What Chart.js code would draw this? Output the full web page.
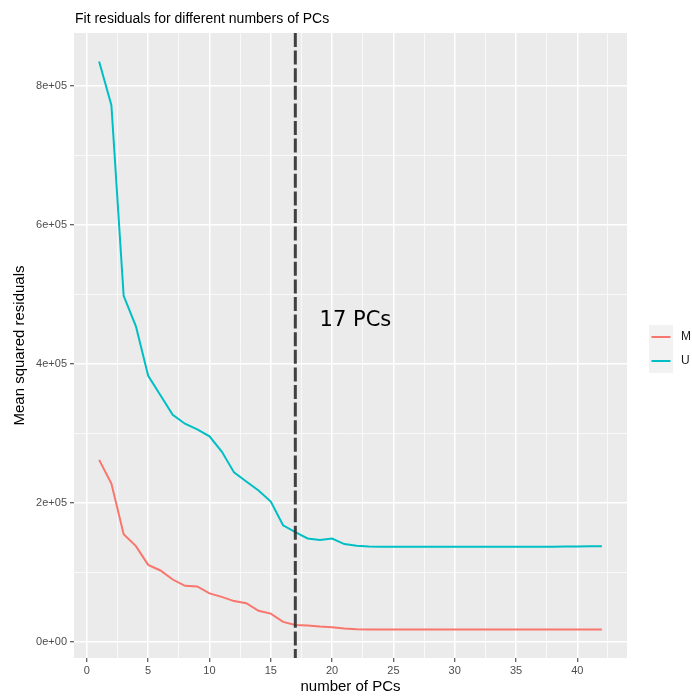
<!DOCTYPE html>
<html>
<head>
<meta charset="utf-8">
<title>Fit residuals</title>
<script src="https://cdn.jsdelivr.net/npm/chart.js@4.4.1/dist/chart.umd.min.js"></script>
<style>
  html, body { margin: 0; padding: 0; background: #fff; }
  #wrap { width: 692px; height: 699px; }
</style>
</head>
<body>
<div id="wrap"><canvas id="chart" width="692" height="699"></canvas></div>
<script>
// ── data ──
const pcs = [1, 2, 3, 4, 5, 6, 7, 8, 9, 10, 11, 12, 13, 14, 15, 16, 17, 18, 19, 20, 21,
             22, 23, 24, 25, 26, 27, 28, 29, 30, 31, 32, 33, 34, 35, 36, 37, 38, 39, 40, 41, 42];
const residM = [262000, 228000, 155000, 138000, 111000, 103000, 90000, 81000, 80000, 70000,
                65000, 59000, 56000, 45000, 41000, 29000, 24500, 24000, 22500, 21500,
                19500, 18500, 18000, 18000, 18000, 18000, 18000, 18000, 18000, 18000,
                18000, 18000, 18000, 18000, 18000, 18000, 18000, 18000, 18000, 18000, 18000, 18000];
const residU = [835000, 772000, 498000, 454000, 383000, 355000, 327000, 314000, 306000, 296000,
                274000, 244000, 231000, 218000, 202000, 168000, 158000, 149000, 147000, 149000,
                141000, 138500, 137500, 137000, 137000, 137000, 137000, 137000, 137000, 137000,
                137000, 137000, 137000, 137000, 137000, 137000, 137000, 137000, 137500, 137500, 138000, 138000];
const seriesNames = ['M', 'U'];
const seriesColors = ['#F8766D', '#00BFC4'];

const xTicks = [0, 5, 10, 15, 20, 25, 30, 35, 40];
const yTicks = [0, 200000, 400000, 600000, 800000];
const yTickLabels = ['0e+00', '2e+05', '4e+05', '6e+05', '8e+05'];

const chosenPC = 17;
const chosenLabel = '17 PCs';
const chosenLabelAt = { x: 21.9, y: 462000 };

const titleText = 'Fit residuals for different numbers of PCs';
const xTitle = 'number of PCs';
const yTitle = 'Mean squared residuals';

// ── ggplot-like helpers ──
function expandRange(vals) {
    const lo = Math.min(...vals), hi = Math.max(...vals);
    const pad = (hi - lo) * 0.05;
    return { min: lo - pad, max: hi + pad };
}

// minor breaks half way between majors (and one past the end if it fits)
function withMinor(major, range) {
    const step = major[1] - major[0];
    const all = [];
    for (let v = major[0] - step / 2; v <= range.max; v += step / 2) {
        if (v >= range.min) all.push(v);
    }
    return all;
}

const xRange = expandRange(pcs);
const yRange = expandRange(residM.concat(residU));
const xAll = withMinor(xTicks, xRange);
const yAll = withMinor(yTicks, yRange);

const isMajor = (list, v) => list.some(m => Math.abs(m - v) < 1e-6);

function gridWidth(list) {
    return ctx => (ctx.tick && isMajor(list, ctx.tick.value)) ? 1.5 : 0.7;
}
function tickCol(list) {
    return ctx => (ctx.tick && isMajor(list, ctx.tick.value)) ? '#333333' : 'rgba(0,0,0,0)';
}

Chart.defaults.font.family = '"Liberation Sans", Arial, Helvetica, sans-serif';

// panel background, vline, annotation, title and legend
const ggDecor = {
    id: 'ggDecor',
    beforeDraw(chart) {
        const { ctx, chartArea: a } = chart;
        ctx.save();
        ctx.fillStyle = '#ffffff';
        ctx.fillRect(0, 0, chart.width, chart.height);
        ctx.fillStyle = '#EBEBEB';
        ctx.fillRect(a.left, a.top, a.right - a.left, a.bottom - a.top);
        ctx.restore();
    },
    afterDatasetsDraw(chart) {
        const { ctx, chartArea: a, scales } = chart;
        const x = scales.x.getPixelForValue(chosenPC);
        ctx.save();
        ctx.strokeStyle = 'rgba(45,45,45,0.9)';
        ctx.lineWidth = 3;
        ctx.setLineDash([14, 3.6]);
        ctx.beginPath();
        ctx.moveTo(x, a.top);
        ctx.lineTo(x, a.bottom);
        ctx.stroke();
        ctx.setLineDash([]);

        ctx.fillStyle = '#000000';
        ctx.font = '21px "DejaVu Sans", sans-serif';
        ctx.textAlign = 'center';
        ctx.textBaseline = 'middle';
        ctx.fillText(chosenLabel, scales.x.getPixelForValue(chosenLabelAt.x),
                     scales.y.getPixelForValue(chosenLabelAt.y));
        ctx.restore();
    },
    afterDraw(chart) {
        const { ctx, chartArea: a } = chart;
        ctx.save();
        // title
        ctx.fillStyle = '#000000';
        ctx.font = '14px "Liberation Sans", Arial, sans-serif';
        ctx.textAlign = 'left';
        ctx.textBaseline = 'alphabetic';
        ctx.fillText(titleText, a.left + 1, 23);

        // legend
        const key = 24;
        const lx = a.right + 22;
        const ly = (a.top + a.bottom) / 2 - 20.5;
        ctx.font = '12px "Liberation Sans", Arial, sans-serif';
        ctx.textBaseline = 'middle';
        seriesNames.forEach((name, i) => {
            const y0 = ly + i * key;
            ctx.fillStyle = '#F2F2F2';
            ctx.fillRect(lx, y0, key, key);
            ctx.strokeStyle = seriesColors[i];
            ctx.lineWidth = 2;
            ctx.beginPath();
            ctx.moveTo(lx + 2.5, y0 + key / 2);
            ctx.lineTo(lx + key - 2.5, y0 + key / 2);
            ctx.stroke();
            ctx.fillStyle = '#1a1a1a';
            ctx.fillText(name, lx + key + 8, y0 + key / 2);
        });
        ctx.restore();
    }
};

const datasets = [residM, residU].map((vals, i) => ({
    label: seriesNames[i],
    data: pcs.map((p, j) => ({ x: p, y: vals[j] })),
    borderColor: seriesColors[i],
    backgroundColor: seriesColors[i],
    borderWidth: 2,
    pointRadius: 0,
    tension: 0,
    fill: false
}));

new Chart(document.getElementById('chart'), {
    type: 'line',
    data: { datasets },
    plugins: [ggDecor],
    options: {
        responsive: false,
        animation: false,
        events: [],
        layout: { padding: { top: 33, right: 65, left: 0, bottom: 0 } },
        plugins: { legend: { display: false }, tooltip: { enabled: false }, title: { display: false } },
        scales: {
            x: {
                type: 'linear',
                min: xRange.min,
                max: xRange.max,
                afterBuildTicks: s => { s.ticks = xAll.map(v => ({ value: v })); },
                afterFit: s => { s.height = 41; },
                ticks: {
                    autoSkip: false,
                    maxRotation: 0,
                    padding: 2,
                    color: '#4D4D4D',
                    font: { size: 11 },
                    callback: v => isMajor(xTicks, v) ? String(Math.round(v)) : ''
                },
                grid: {
                    color: '#ffffff',
                    lineWidth: gridWidth(xTicks),
                    tickColor: tickCol(xTicks),
                    tickWidth: 1,
                    tickLength: 4
                },
                border: { display: false },
                title: {
                    display: true,
                    text: xTitle,
                    color: '#000000',
                    font: { size: 15 },
                    padding: { top: 0, bottom: 3.5 }
                }
            },
            y: {
                type: 'linear',
                min: yRange.min,
                max: yRange.max,
                afterBuildTicks: s => { s.ticks = yAll.map(v => ({ value: v })); },
                afterFit: s => { s.width = 74; },
                ticks: {
                    autoSkip: false,
                    padding: 3,
                    color: '#4D4D4D',
                    font: { size: 11 },
                    callback: v => {
                        const i = yTicks.findIndex(m => Math.abs(m - v) < 1e-6);
                        return i >= 0 ? yTickLabels[i] : '';
                    }
                },
                grid: {
                    color: '#ffffff',
                    lineWidth: gridWidth(yTicks),
                    tickColor: tickCol(yTicks),
                    tickWidth: 1,
                    tickLength: 4
                },
                border: { display: false },
                title: {
                    display: true,
                    text: yTitle,
                    color: '#000000',
                    font: { size: 15 },
                    padding: { top: 11, bottom: 0 }
                }
            }
        }
    }
});
</script>
</body>
</html>
